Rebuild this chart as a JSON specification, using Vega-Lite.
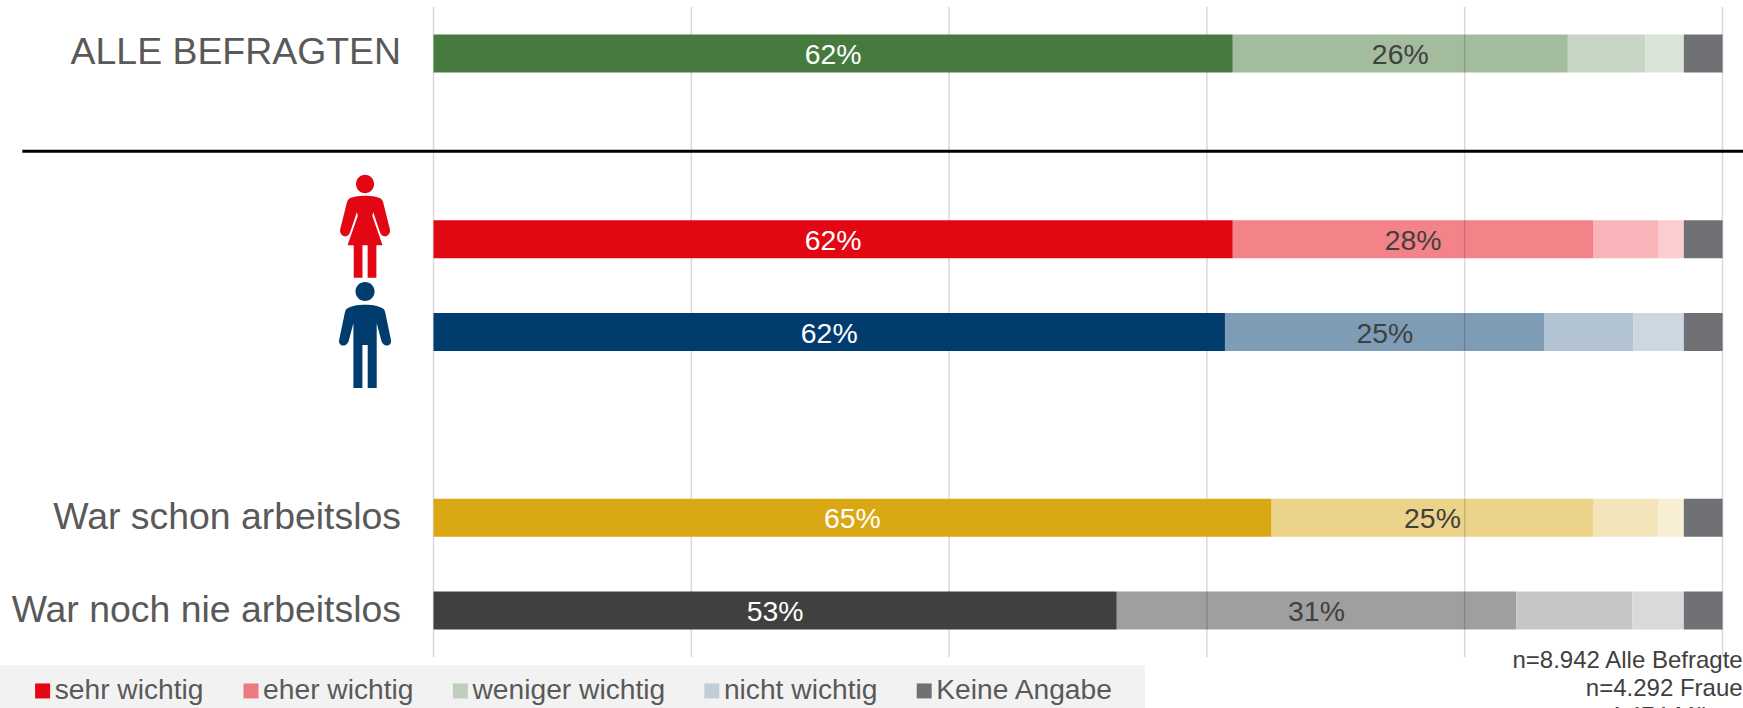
{
"$schema":"https://vega.github.io/schema/vega-lite/v6.json",
"width":1289,"height":650,
"autosize":{"type":"none"},
"padding":{"left":433.5,"top":7,"right":20.5,"bottom":51},
"background":"white",
"config":{"view":{"stroke":null},"font":"Liberation Sans"},
"datasets":{"rows":[
{"group":"ALLE BEFRAGTEN","category":"sehr wichtig","order":1,"value":62,"label":"62%","key":"ALLE BEFRAGTEN|sehr wichtig"},
{"group":"ALLE BEFRAGTEN","category":"eher wichtig","order":2,"value":26,"label":"26%","key":"ALLE BEFRAGTEN|eher wichtig"},
{"group":"ALLE BEFRAGTEN","category":"weniger wichtig","order":3,"value":6,"key":"ALLE BEFRAGTEN|weniger wichtig"},
{"group":"ALLE BEFRAGTEN","category":"nicht wichtig","order":4,"value":3,"key":"ALLE BEFRAGTEN|nicht wichtig"},
{"group":"ALLE BEFRAGTEN","category":"Keine Angabe","order":5,"value":3,"key":"Alle|Keine Angabe"},
{"group":"Frauen","category":"sehr wichtig","order":1,"value":62,"label":"62%","key":"Frauen|sehr wichtig"},
{"group":"Frauen","category":"eher wichtig","order":2,"value":28,"label":"28%","key":"Frauen|eher wichtig"},
{"group":"Frauen","category":"weniger wichtig","order":3,"value":5,"key":"Frauen|weniger wichtig"},
{"group":"Frauen","category":"nicht wichtig","order":4,"value":2,"key":"Frauen|nicht wichtig"},
{"group":"Frauen","category":"Keine Angabe","order":5,"value":3,"key":"Alle|Keine Angabe"},
{"group":"Männer","category":"sehr wichtig","order":1,"value":61.4,"label":"62%","key":"Männer|sehr wichtig"},
{"group":"Männer","category":"eher wichtig","order":2,"value":24.8,"label":"25%","key":"Männer|eher wichtig"},
{"group":"Männer","category":"weniger wichtig","order":3,"value":6.9,"key":"Männer|weniger wichtig"},
{"group":"Männer","category":"nicht wichtig","order":4,"value":3.9,"key":"Männer|nicht wichtig"},
{"group":"Männer","category":"Keine Angabe","order":5,"value":3,"key":"Alle|Keine Angabe"},
{"group":"War schon arbeitslos","category":"sehr wichtig","order":1,"value":65,"label":"65%","key":"War schon arbeitslos|sehr wichtig"},
{"group":"War schon arbeitslos","category":"eher wichtig","order":2,"value":25,"label":"25%","key":"War schon arbeitslos|eher wichtig"},
{"group":"War schon arbeitslos","category":"weniger wichtig","order":3,"value":5,"key":"War schon arbeitslos|weniger wichtig"},
{"group":"War schon arbeitslos","category":"nicht wichtig","order":4,"value":2,"key":"War schon arbeitslos|nicht wichtig"},
{"group":"War schon arbeitslos","category":"Keine Angabe","order":5,"value":3,"key":"Alle|Keine Angabe"},
{"group":"War noch nie arbeitslos","category":"sehr wichtig","order":1,"value":53,"label":"53%","key":"War noch nie arbeitslos|sehr wichtig"},
{"group":"War noch nie arbeitslos","category":"eher wichtig","order":2,"value":31,"label":"31%","key":"War noch nie arbeitslos|eher wichtig"},
{"group":"War noch nie arbeitslos","category":"weniger wichtig","order":3,"value":9,"key":"War noch nie arbeitslos|weniger wichtig"},
{"group":"War noch nie arbeitslos","category":"nicht wichtig","order":4,"value":4,"key":"War noch nie arbeitslos|nicht wichtig"},
{"group":"War noch nie arbeitslos","category":"Keine Angabe","order":5,"value":3,"key":"Alle|Keine Angabe"}
]},
"data":{"name":"rows"},
"layer":[
{"data":{"values":[{"strip":"Legendenfeld"}]},
"mark":{"type":"rule","strokeWidth":43,"color":"#f2f2f2","yOffset":76,"clip":false},
"encoding":{"y":{"datum":"War noch nie arbeitslos","type":"nominal","title":null,
"scale":{"domain":["ALLE BEFRAGTEN"," ","Frauen","Männer","  ","War schon arbeitslos","War noch nie arbeitslos"],"paddingInner":0,"paddingOuter":0},
"axis":{"title":null,"domain":false,"ticks":false,"grid":false,"labelFontSize":37.4,"labelColor":"#595959","labelPadding":33,"labelLimit":500,"labelFont":"Liberation Sans",
"labelExpr":"datum.label==='Frauen'||datum.label==='Männer'?'':datum.label"}},
"x":{"datum":-33.63,"type":"quantitative","title":null,"scale":{"domain":[0,100],"nice":false,"zero":false},"axis":null},"x2":{"datum":55.2}}},
{"transform":[{"stack":"value","groupby":["group"],"sort":[{"field":"order","order":"ascending"}],"as":["x0","x1"]},{"filter":"datum.category!=='sehr wichtig'"}],
"mark":{"type":"bar","size":38,"clip":false},
"encoding":{
"y":{"field":"group","type":"nominal","title":null},
"x":{"field":"x0","type":"quantitative","title":null},
"x2":{"field":"x1"},
"color":{"field":"key","type":"nominal","scale":{
"domain":[
"Legende|sehr wichtig","Legende|eher wichtig","Legende|weniger wichtig","Legende|nicht wichtig","Alle|Keine Angabe",
"ALLE BEFRAGTEN|sehr wichtig","ALLE BEFRAGTEN|eher wichtig","ALLE BEFRAGTEN|weniger wichtig","ALLE BEFRAGTEN|nicht wichtig",
"Frauen|sehr wichtig","Frauen|eher wichtig","Frauen|weniger wichtig","Frauen|nicht wichtig",
"Männer|sehr wichtig","Männer|eher wichtig","Männer|weniger wichtig","Männer|nicht wichtig",
"War schon arbeitslos|sehr wichtig","War schon arbeitslos|eher wichtig","War schon arbeitslos|weniger wichtig","War schon arbeitslos|nicht wichtig",
"War noch nie arbeitslos|sehr wichtig","War noch nie arbeitslos|eher wichtig","War noch nie arbeitslos|weniger wichtig","War noch nie arbeitslos|nicht wichtig"],
"range":[
"#E30613","#EC7B81","#BDCEBB","#C0CEDA","#707175",
"#477A3E","#A3BC9E","#C8D6C5","#DAE4D8",
"#E30613","#F48289","#F7B5B9","#FBCDD0",
"#003C6E","#7F9CB6","#B2C4D3","#CBD8E2",
"#DAA813","#EBD38A","#F3E4B9","#F7EED3",
"#404040","#9F9F9F","#C6C6C6","#D9D9D9"]},
"legend":{"orient":"none","legendX":-405,"legendY":669.5,"direction":"horizontal","title":null,
"values":["Legende|sehr wichtig","Legende|eher wichtig","Legende|weniger wichtig","Legende|nicht wichtig","Alle|Keine Angabe"],
"labelExpr":"split(datum.label,'|')[1]","labelFontSize":28.2,"labelColor":"#595959","labelFont":"Liberation Sans","labelLimit":400,"labelOffset":-2,
"symbolType":"square","symbolSize":225,"symbolStrokeWidth":0,"columnPadding":32.4,"padding":0,"columns":5}}
}},
{"data":{"values":[{"grid":0},{"grid":20},{"grid":40},{"grid":60},{"grid":80},{"grid":100}]},
"mark":{"type":"rule","color":"#000000","opacity":0.15,"strokeWidth":1.5},
"encoding":{"x":{"field":"grid","type":"quantitative","title":null}}},
{"transform":[{"stack":"value","groupby":["group"],"sort":[{"field":"order","order":"ascending"}],"as":["x0","x1"]},{"filter":"datum.category==='sehr wichtig'"}],
"mark":{"type":"bar","size":38,"clip":false},
"encoding":{
"y":{"field":"group","type":"nominal","title":null},
"x":{"field":"x0","type":"quantitative","title":null},
"x2":{"field":"x1"},
"color":{"field":"key","type":"nominal"}
}},
{"data":{"values":[{"line":"Trennlinie"}]},
"mark":{"type":"rule","color":"#000000","strokeWidth":3,"yOffset":5,"clip":false},
"encoding":{"y":{"datum":" ","type":"nominal","title":null},"x":{"datum":-31.9,"type":"quantitative","title":null},"x2":{"datum":102}}},
{"transform":[{"stack":"value","groupby":["group"],"sort":[{"field":"order","order":"ascending"}],"as":["x0","x1"]},{"calculate":"(datum.x0+datum.x1)/2","as":"mid"},{"filter":"isValid(datum.label)"}],
"mark":{"type":"text","fontSize":28.4,"yOffset":1.5,"font":"Liberation Sans"},
"encoding":{"y":{"field":"group","type":"nominal","title":null},"x":{"field":"mid","type":"quantitative","title":null},"text":{"field":"label"},
"color":{"condition":{"test":"datum.category==='sehr wichtig'","value":"#ffffff"},"value":"#404040"}}},
{"data":{"values":[{"group":"Frauen"}]},
"mark":{"type":"point","filled":true,"opacity":1,"size":10609,"yOffset":-13,"clip":false,"color":"#E30613",
"shape":"M0,-1C.097,-1 .175,-.92 .175,-.82C.175,-.72 .097,-.64 0,-.64C-.097,-.64 -.175,-.72 -.175,-.82C-.175,-.92 -.097,-1 0,-1ZM-.31,-.53C-.2,-.61 .2,-.61 .31,-.53C.33,-.51 .34,-.49 .35,-.47L.48,.05C.5,.13 .46,.19 .39,.2C.34,.2 .31,.17 .29,.12L.16,-.27L.14,-.2L.34,.37H.22V1H.05V.37H-.05V1H-.22V.37H-.34L-.14,-.2L-.16,-.27L-.29,.12C-.31,.17 -.34,.2 -.39,.2C-.46,.19 -.5,.13 -.48,.05L-.35,-.47C-.34,-.49 -.33,-.51 -.31,-.53Z"},
"encoding":{"x":{"datum":-5.31,"type":"quantitative","title":null},"y":{"field":"group","type":"nominal","title":null}}},
{"data":{"values":[{"group":"Männer"}]},
"mark":{"type":"point","filled":true,"opacity":1,"size":11236,"yOffset":3,"clip":false,"color":"#003C6E",
"shape":"M0,-1C.1,-1 .18,-.92 .18,-.82C.18,-.72 .1,-.64 0,-.64C-.1,-.64 -.18,-.72 -.18,-.82C-.18,-.92 -.1,-1 0,-1ZM-.35,-.49C-.22,-.6 .22,-.6 .35,-.49C.37,-.47 .37,-.45 .38,-.43L.49,.1C.5,.16 .46,.2 .41,.2C.36,.2 .33,.17 .31,.12L.22,-.22V1H.05V.19H-.05V1H-.22V-.22L-.31,.12C-.33,.17 -.36,.2 -.41,.2C-.46,.2 -.5,.16 -.49,.1L-.38,-.43C-.37,-.45 -.37,-.47 -.35,-.49Z"},
"encoding":{"x":{"datum":-5.31,"type":"quantitative","title":null},"y":{"field":"group","type":"nominal","title":null}}},
{"data":{"values":[{"note":["n=8.942 Alle Befragten","n=4.292 Frauen","n=4.474 Männer"]}]},
"mark":{"type":"text","fontSize":24,"align":"right","baseline":"top","lineHeight":28,"color":"#404040","yOffset":38,"clip":false,"font":"Liberation Sans"},
"encoding":{"x":{"datum":102.6,"type":"quantitative","title":null},"y":{"datum":"War noch nie arbeitslos","type":"nominal","title":null},"text":{"field":"note"}}}
]
}
